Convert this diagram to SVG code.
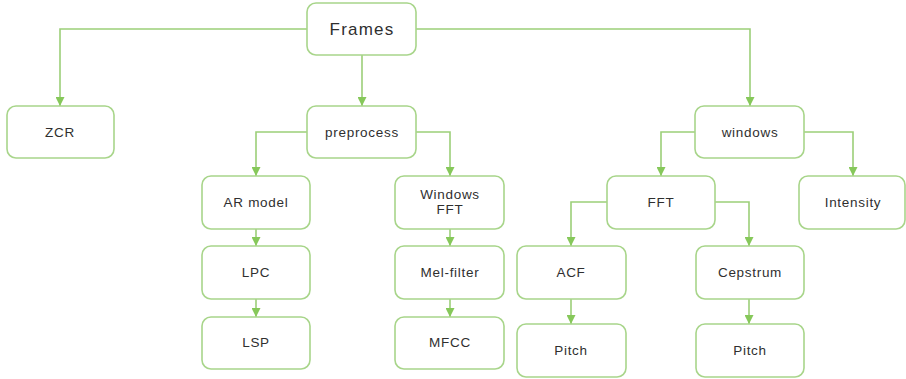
<svg xmlns="http://www.w3.org/2000/svg" width="906" height="379" viewBox="0 0 906 379">
  <defs>
    <marker id="arrow" viewBox="0 0 10 10" refX="10" refY="5" markerWidth="9" markerHeight="9" markerUnits="userSpaceOnUse" orient="auto">
      <path d="M0,0 L10,5 L0,10 Z" fill="#86c85a"/>
    </marker>
    <style>
      .box { fill: #ffffff; stroke: #a8d58a; stroke-width: 1.6; }
      .lbl { font-family: "Liberation Sans", Arial, sans-serif; font-size: 13.5px; fill: #2f2f2f; text-anchor: middle; dominant-baseline: central; letter-spacing: 0.7px; }
      .big { font-size: 17px; letter-spacing: 1.2px; }
      .edge { fill: none; stroke: #9ccf78; stroke-width: 1.6; marker-end: url(#arrow); }
    </style>
  </defs>
  <rect width="906" height="379" fill="#ffffff"/>

  <g id="connectors">
    <path class="edge" d="M307,29 H60 V106"/>
    <path class="edge" d="M362,55 V106"/>
    <path class="edge" d="M416,29 H750 V106"/>
    <path class="edge" d="M307,132 H256 V176"/>
    <path class="edge" d="M416,132 H450 V176"/>
    <path class="edge" d="M695,132 H661 V176"/>
    <path class="edge" d="M804,132 H853 V176"/>
    <path class="edge" d="M256,229 V246"/>
    <path class="edge" d="M256,299 V317"/>
    <path class="edge" d="M450,229 V246"/>
    <path class="edge" d="M450,299 V317"/>
    <path class="edge" d="M607,202 H571 V246"/>
    <path class="edge" d="M715,202 H749 V246"/>
    <path class="edge" d="M571,299 V324"/>
    <path class="edge" d="M749,299 V324"/>
  </g>

  <g id="frames"><rect class="box" x="307" y="3" width="109" height="52" rx="9"/><text class="lbl big" x="362" y="29">Frames</text></g>
  <g id="zcr"><rect class="box" x="7" y="106" width="107" height="52" rx="9"/><text class="lbl" x="60" y="132">ZCR</text></g>
  <g id="preprocess"><rect class="box" x="307" y="106" width="109" height="52" rx="9"/><text class="lbl" x="362" y="132">preprocess</text></g>
  <g id="windows"><rect class="box" x="695" y="106" width="109" height="52" rx="9"/><text class="lbl" x="750" y="132">windows</text></g>

  <g id="ar-model"><rect class="box" x="202" y="176" width="108" height="53" rx="9"/><text class="lbl" x="256" y="202">AR model</text></g>
  <g id="lpc"><rect class="box" x="202" y="246" width="108" height="53" rx="9"/><text class="lbl" x="256" y="272">LPC</text></g>
  <g id="lsp"><rect class="box" x="202" y="317" width="108" height="52" rx="9"/><text class="lbl" x="256" y="342">LSP</text></g>

  <g id="windows-fft"><rect class="box" x="395" y="176" width="109" height="53" rx="9"/><text class="lbl" x="450" y="194">Windows</text><text class="lbl" x="450" y="209">FFT</text></g>
  <g id="mel-filter"><rect class="box" x="395" y="246" width="109" height="53" rx="9"/><text class="lbl" x="450" y="272">Mel-filter</text></g>
  <g id="mfcc"><rect class="box" x="395" y="317" width="109" height="52" rx="9"/><text class="lbl" x="450" y="342">MFCC</text></g>

  <g id="fft"><rect class="box" x="607" y="176" width="108" height="53" rx="9"/><text class="lbl" x="661" y="202">FFT</text></g>
  <g id="intensity"><rect class="box" x="799" y="176" width="106" height="53" rx="9"/><text class="lbl" x="853" y="202">Intensity</text></g>

  <g id="acf"><rect class="box" x="517" y="246" width="109" height="53" rx="9"/><text class="lbl" x="571" y="272">ACF</text></g>
  <g id="cepstrum"><rect class="box" x="696" y="246" width="108" height="53" rx="9"/><text class="lbl" x="750" y="272">Cepstrum</text></g>
  <g id="pitch-acf"><rect class="box" x="517" y="324" width="109" height="53" rx="9"/><text class="lbl" x="571" y="350">Pitch</text></g>
  <g id="pitch-cepstrum"><rect class="box" x="696" y="324" width="108" height="53" rx="9"/><text class="lbl" x="750" y="350">Pitch</text></g>
</svg>
